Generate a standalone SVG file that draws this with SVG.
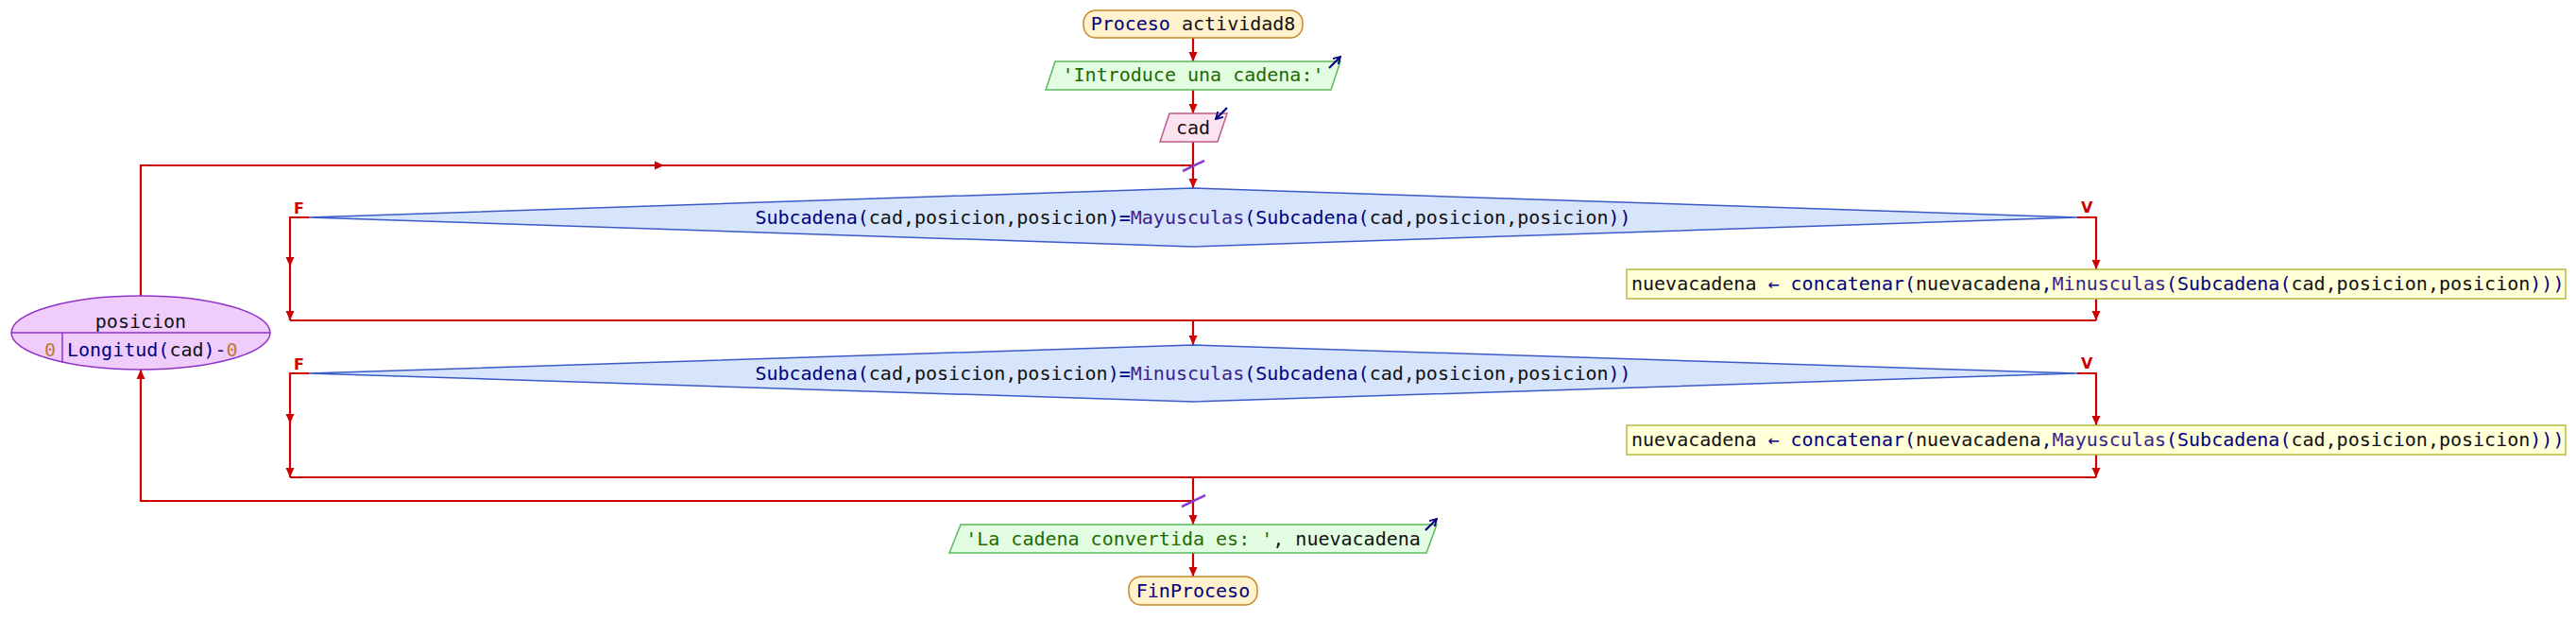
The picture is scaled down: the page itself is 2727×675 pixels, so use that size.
<svg xmlns="http://www.w3.org/2000/svg" width="2727" height="675" viewBox="0 0 2727 675">
<defs>
<style>
text{font-family:"DejaVu Sans Mono","Liberation Mono",monospace;font-size:20px;fill:#111}
.kw{fill:#000080}
.fn{fill:#3a1f8c}
.str{fill:#1f6a00}
.num{fill:#c07a30}
.lbl{font-family:"DejaVu Sans","Liberation Sans",sans-serif;font-size:16px;font-weight:bold;fill:#cc0000}
.con{fill:none;stroke:#cc0000;stroke-width:2.2}
.slash{stroke:#8a3cd0;stroke-width:2.5}
.icon{fill:none;stroke:#000080;stroke-width:2.2}
.proc{fill:#fff2cc;stroke:#c8882a;stroke-width:1.5}
.out{fill:#e2fde2;stroke:#5cb85c;stroke-width:1.5}
.inp{fill:#fde2f0;stroke:#c05a8a;stroke-width:1.5}
.dec{fill:#d6e4fc;stroke:#3a5ac8;stroke-width:1.5}
.asg{fill:#ffffd8;stroke:#b8b840;stroke-width:1.5}
.loop{fill:#f0ccfc;stroke:#9033c8;stroke-width:1.5}
</style>
<marker id="ah" viewBox="0 0 10 10" refX="10" refY="5" markerWidth="10" markerHeight="10" markerUnits="userSpaceOnUse" orient="auto"><path d="M0,0.5 L10,5 L0,9.5 z" fill="#cc0000"/></marker>
<marker id="ih" viewBox="0 0 10 10" refX="9" refY="5" markerWidth="9" markerHeight="9" markerUnits="userSpaceOnUse" orient="auto"><path d="M1,0.5 L9,5 L1,9.5" fill="none" stroke="#000080" stroke-width="2"/></marker>
</defs>
<rect width="2727" height="675" fill="#ffffff"/>

<g id="connectors">
<path class="con" d="M1263,40 V65" marker-end="url(#ah)"/>
<path class="con" d="M1263,95 V120" marker-end="url(#ah)"/>
<path class="con" d="M1263,150 V199" marker-end="url(#ah)"/>
<path class="con" d="M149,313 V175 H703" marker-end="url(#ah)"/>
<path class="con" d="M700,175 H1263"/>
<line class="slash" x1="1252" y1="181" x2="1275" y2="170"/>
<path class="con" d="M327,230 H307 V282" marker-end="url(#ah)"/>
<path class="con" d="M307,280 V339" marker-end="url(#ah)"/>
<path class="con" d="M2199,230 H2219 V285" marker-end="url(#ah)"/>
<path class="con" d="M2219,316 V339" marker-end="url(#ah)"/>
<path class="con" d="M307,339 H2219"/>
<path class="con" d="M1263,339 V365" marker-end="url(#ah)"/>
<path class="con" d="M327,395 H307 V448" marker-end="url(#ah)"/>
<path class="con" d="M307,446 V505" marker-end="url(#ah)"/>
<path class="con" d="M2199,395 H2219 V450" marker-end="url(#ah)"/>
<path class="con" d="M2219,481 V505" marker-end="url(#ah)"/>
<path class="con" d="M307,505 H2219"/>
<path class="con" d="M1263,505 V555" marker-end="url(#ah)"/>
<path class="con" d="M1263,530 H149 V391" marker-end="url(#ah)"/>
<line class="slash" x1="1251" y1="536" x2="1276" y2="524"/>
<path class="con" d="M1263,585 V610" marker-end="url(#ah)"/>
<text class="lbl" x="311" y="226">F</text>
<text class="lbl" x="2203" y="225">V</text>
<text class="lbl" x="311" y="391">F</text>
<text class="lbl" x="2203" y="390">V</text>
</g>

<g id="inicio">
<rect class="proc" x="1147" y="11" width="232" height="29" rx="13"/>
<text x="1263" y="32" text-anchor="middle"><tspan class="kw">Proceso</tspan> actividad8</text>
</g>

<g id="escribir1">
<polygon class="out" points="1117,65 1419,65 1409,95 1107,95"/>
<text x="1263" y="86" text-anchor="middle" class="str">'Introduce una cadena:'</text>
<path class="icon" d="M1407,72 L1419,60" marker-end="url(#ih)"/>
</g>

<g id="leer">
<polygon class="inp" points="1238,120 1299,120 1289,150 1228,150"/>
<text x="1263" y="142" text-anchor="middle">cad</text>
<path class="icon" d="M1299,114 L1287,126" marker-end="url(#ih)"/>
</g>

<g id="para">
<ellipse class="loop" cx="149" cy="352" rx="137" ry="39"/>
<line x1="12" y1="352" x2="286" y2="352" stroke="#9033c8" stroke-width="1.5"/>
<line x1="66" y1="352" x2="66" y2="384" stroke="#9033c8" stroke-width="1.5"/>
<text x="149" y="347" text-anchor="middle">posicion</text>
<text x="47" y="377" class="num">0</text>
<text x="71" y="377"><tspan class="kw">Longitud(</tspan>cad<tspan class="kw">)-</tspan><tspan class="num">0</tspan></text>
</g>

<g id="si1">
<polygon class="dec" points="327,230 1263,199 2199,230 1263,261"/>
<text x="1263" y="237" text-anchor="middle"><tspan class="kw">Subcadena(</tspan>cad,posicion,posicion<tspan class="kw">)=</tspan><tspan class="fn">Mayusculas</tspan><tspan class="kw">(Subcadena(</tspan>cad,posicion,posicion<tspan class="kw">))</tspan></text>
</g>

<g id="asignar1">
<rect class="asg" x="1722" y="285" width="994" height="31"/>
<text x="1727" y="307">nuevacadena <tspan class="kw">← concatenar(</tspan>nuevacadena<tspan class="kw">,</tspan><tspan class="fn">Minusculas</tspan><tspan class="kw">(Subcadena(</tspan>cad,posicion,posicion<tspan class="kw">)))</tspan></text>
</g>

<g id="si2">
<polygon class="dec" points="327,395 1263,365 2199,395 1263,425"/>
<text x="1263" y="402" text-anchor="middle"><tspan class="kw">Subcadena(</tspan>cad,posicion,posicion<tspan class="kw">)=</tspan><tspan class="fn">Minusculas</tspan><tspan class="kw">(Subcadena(</tspan>cad,posicion,posicion<tspan class="kw">))</tspan></text>
</g>

<g id="asignar2">
<rect class="asg" x="1722" y="450" width="994" height="31"/>
<text x="1727" y="472">nuevacadena <tspan class="kw">← concatenar(</tspan>nuevacadena<tspan class="kw">,</tspan><tspan class="fn">Mayusculas</tspan><tspan class="kw">(Subcadena(</tspan>cad,posicion,posicion<tspan class="kw">)))</tspan></text>
</g>

<g id="escribir2">
<polygon class="out" points="1017,555 1521,555 1510,585 1005,585"/>
<text x="1263" y="577" text-anchor="middle"><tspan class="str">'La cadena convertida es: '</tspan>, nuevacadena</text>
<path class="icon" d="M1509,561 L1521,549" marker-end="url(#ih)"/>
</g>

<g id="fin">
<rect class="proc" x="1195" y="610" width="136" height="30" rx="13"/>
<text x="1263" y="632" text-anchor="middle" class="kw">FinProceso</text>
</g>
</svg>
